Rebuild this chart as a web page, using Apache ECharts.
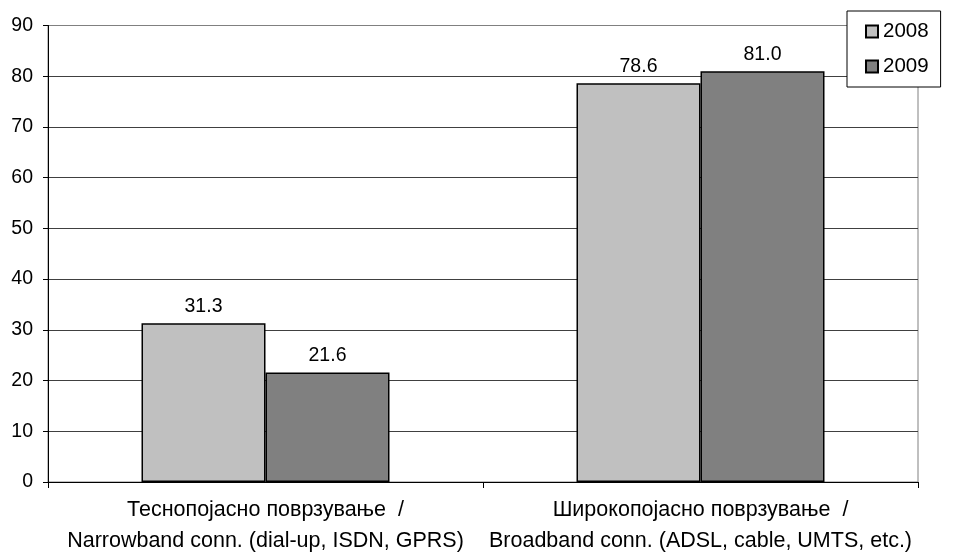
<!DOCTYPE html>
<html><head><meta charset="utf-8">
<script src="https://cdn.jsdelivr.net/npm/echarts@6/dist/echarts.min.js"></script>
<style>html,body{margin:0;padding:0;background:#fff}#c{width:960px;height:560px}</style>
</head><body><div id="c"></div>
<script>
const categories = ['Теснопојасно поврзување  /\nNarrowband conn. (dial-up, ISDN, GPRS)', 'Широкопојасно поврзување  /\nBroadband conn. (ADSL, cable, UMTS, etc.)'];
const seriesNames = ['2008', '2009'];
const values2008 = [31.3, 78.6];
const values2009 = [21.6, 81.0];
const yTicks = [0, 10, 20, 30, 40, 50, 60, 70, 80, 90];

const FONT = '"Liberation Sans", Arial, sans-serif';
const chart = echarts.init(document.getElementById('c'), null, {renderer: 'canvas'});
const gridColors = yTicks.map((t, i) => i === yTicks.length - 1 ? '#808080' : '#404040');
chart.setOption({
  animation: false,
  backgroundColor: '#fff',
  textStyle: {fontFamily: FONT},
  grid: {left: 48, right: 42, top: 25.5, bottom: 78, show: true, borderColor: '#808080', borderWidth: 1, containLabel: false},
  legend: {
    data: seriesNames, orient: 'vertical', left: 847, top: 11,
    padding: [10, 12, 10, 18], itemGap: 14, itemWidth: 12, itemHeight: 12,
    backgroundColor: '#fff', borderColor: '#000', borderWidth: 1, borderRadius: 0,
    icon: 'rect',
    textStyle: {fontFamily: FONT, fontSize: 20.5, color: '#000', lineHeight: 20}
  },
  xAxis: {
    type: 'category', data: categories,
    axisLine: {lineStyle: {color: '#000', width: 1}},
    axisTick: {show: true, length: 6, lineStyle: {color: '#000'}},
    axisLabel: {fontFamily: FONT, fontSize: 21.5, color: '#000', lineHeight: 31, margin: 13, interval: 0}
  },
  yAxis: {
    type: 'value', min: 0, max: 90, interval: 10,
    axisLine: {show: true, lineStyle: {color: '#000', width: 1}},
    axisTick: {show: true, length: 5, lineStyle: {color: '#000'}},
    axisLabel: {fontFamily: FONT, fontSize: 19.5, color: '#000', margin: 15},
    splitLine: {show: true, lineStyle: {color: gridColors, width: 1}}
  },
  series: [
    {name: seriesNames[0], type: 'bar', data: values2008, barWidth: 124, barGap: '0%',
     itemStyle: {color: '#c0c0c0', borderColor: '#000', borderWidth: 1.5},
     label: {show: true, position: 'top', distance: 7, fontFamily: FONT, fontSize: 19.5, color: '#000', formatter: p => p.value.toFixed(1)}},
    {name: seriesNames[1], type: 'bar', data: values2009, barWidth: 124, barGap: '0%',
     itemStyle: {color: '#808080', borderColor: '#000', borderWidth: 1.5},
     label: {show: true, position: 'top', distance: 7, fontFamily: FONT, fontSize: 19.5, color: '#000', formatter: p => p.value.toFixed(1)}}
  ]
});
</script></body></html>
